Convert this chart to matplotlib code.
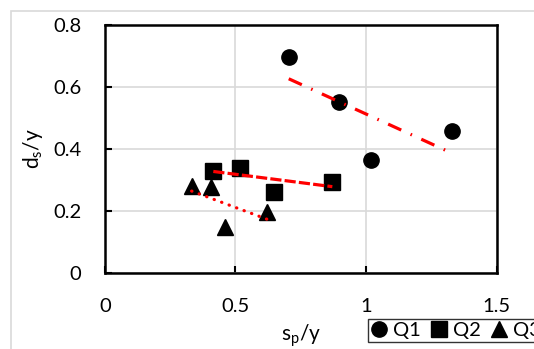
import numpy as np
import matplotlib
matplotlib.use("Agg")
import matplotlib.pyplot as plt
from matplotlib.lines import Line2D
from matplotlib.patches import Rectangle

plt.rcParams['font.family'] = ['Lato', 'DejaVu Sans']

# data
q1_x = [0.704, 0.898, 1.019, 1.328]
q1_y = [0.698, 0.550, 0.364, 0.459]
q2_x = [0.415, 0.517, 0.649, 0.871]
q2_y = [0.330, 0.340, 0.260, 0.295]
q3_x = [0.332, 0.406, 0.461, 0.622]
q3_y = [0.280, 0.277, 0.147, 0.198]
labels = ['Q1', 'Q2', 'Q3']
x_ticks = [0, 0.5, 1, 1.5]
y_ticks = [0, 0.2, 0.4, 0.6, 0.8]

fig = plt.figure(figsize=(5.34, 3.49), dpi=100)
ax = fig.add_axes([0.1966, 0.2178, 0.7332, 0.7106])

# light grey outer chart border
fig.patches.append(Rectangle((11 / 534, -0.1), 1.2, 1 - 11 / 349 + 0.1,
                             transform=fig.transFigure, fill=False,
                             edgecolor='#d9d9d9', linewidth=1.2))

ms = 11
series = [(q1_x, q1_y, 'o'), (q2_x, q2_y, 's'), (q3_x, q3_y, '^')]
for xs, ys, m in series:
    ax.plot(xs, ys, linestyle='none', marker=m, markersize=ms,
            color='black', zorder=3)

# linear trendlines
styles = [(0, (4.5, 3.2, 0.5, 3.2)), (0, (3.5, 1.0)), (0, (0.1, 2.4))]
caps = ['butt', 'butt', 'round']
for (xs, ys, m), ls, cap in zip(series, styles, caps):
    k, b = np.polyfit(xs, ys, 1)
    xx = np.array([min(xs), max(xs)])
    ax.plot(xx, k * xx + b, color='red', linewidth=2.3, linestyle=ls,
            dash_capstyle=cap, zorder=4)

ax.set_xlim(0, 1.5)
ax.set_ylim(0, 0.8)
ax.set_xticks(x_ticks)
ax.set_xticklabels(['0', '0.5', '1', '1.5'])
ax.set_yticks(y_ticks)
ax.set_yticklabels(['0', '0.2', '0.4', '0.6', '0.8'])
ax.grid(True, color='#d9d9d9', linewidth=1.2, zorder=0)
ax.set_axisbelow(True)
for s in ax.spines.values():
    s.set_linewidth(1.8)
    s.set_color('black')
ax.tick_params(direction='in', length=5, width=1.5, labelsize=14.5,
               colors='black')
ax.tick_params(axis='y', pad=17)
ax.tick_params(axis='x', pad=18)

ax.set_xlabel('s$_\\mathregular{p}$/y', fontsize=15, labelpad=5)
ax.set_ylabel('d$_\\mathregular{s}$/y', fontsize=15, labelpad=6)

handles = [Line2D([], [], linestyle='none', marker=m, markersize=ms,
                  color='black') for _, _, m in series]
leg = fig.legend(handles, labels, loc='upper left',
                 bbox_to_anchor=(368 / 534, 1 - 319 / 349), ncol=3,
                 frameon=True, fancybox=False, fontsize=14.5,
                 handlelength=0.8, handletextpad=0.3, columnspacing=0.5,
                 borderpad=0.15, borderaxespad=0)
leg.get_frame().set_edgecolor('black')
leg.get_frame().set_linewidth(1.0)

fig.savefig('out.png', dpi=100)
